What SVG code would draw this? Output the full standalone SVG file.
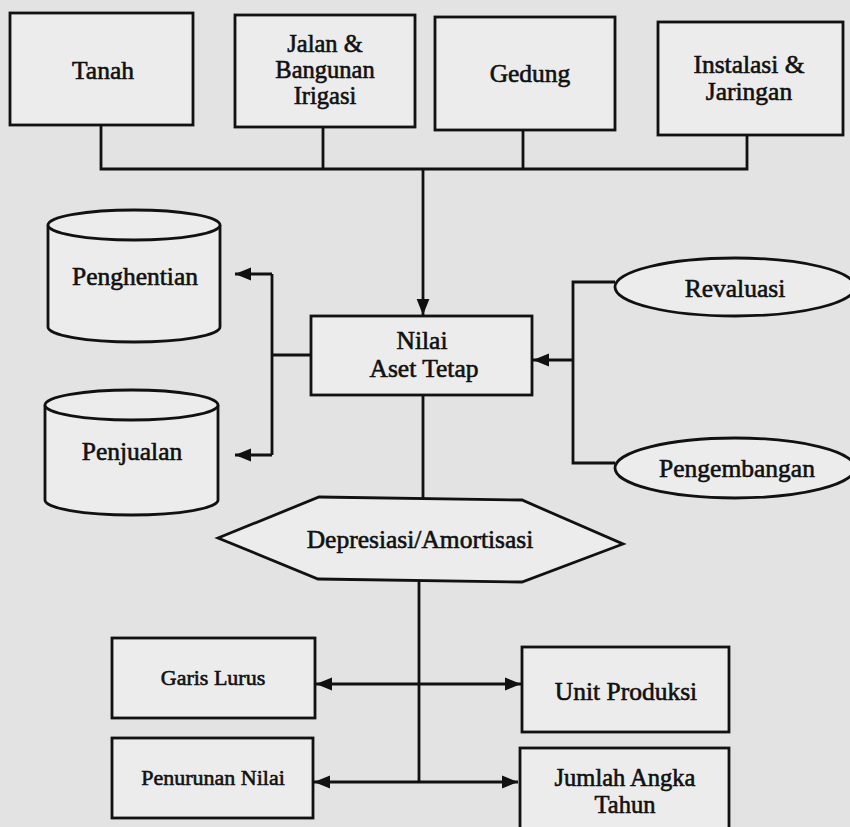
<svg xmlns="http://www.w3.org/2000/svg" width="850" height="827" viewBox="0 0 850 827">
<defs>
<marker id="ah" viewBox="0 0 10 10" refX="10" refY="5" markerWidth="16" markerHeight="16" markerUnits="userSpaceOnUse" orient="auto">
<path d="M0,1 L10,5 L0,9 Z" fill="#111"/>
</marker>
</defs>
<style>
.bg{fill:#e3e3e3}
.n{fill:#ececec;stroke:#111;stroke-width:2.8}
.c{fill:none;stroke:#111;stroke-width:2.8}
.a{fill:none;stroke:#111;stroke-width:2.8;marker-end:url(#ah)}
text{font-family:"Liberation Serif","Times New Roman",serif;fill:#111;stroke:#111;stroke-width:0.6;text-anchor:middle;font-size:25.5px}
.s{font-size:22px}
.m{font-size:24.5px}
</style>
<rect class="bg" width="850" height="827"/>
<g id="connectors">
<path class="c" d="M101,125 V169 H747 V135 M323,127 V169 M523,130 V169"/>
<path class="a" d="M423,169 V315"/>
<path class="c" d="M311,355 H272 M272,274 V455"/>
<path class="a" d="M272,274 H235"/>
<path class="a" d="M272,455 H235"/>
<path class="c" d="M615,282 H573 V463 H615"/>
<path class="a" d="M573,360 H533"/>
<path class="c" d="M423,395 V498 M419,580 V782"/>
<path class="a" d="M419,684 H316"/>
<path class="a" d="M419,684 H521"/>
<path class="a" d="M419,782 H314"/>
<path class="a" d="M419,782 H518"/>
</g>
<g id="tanah"><rect class="n" x="10" y="13" width="183" height="112"/><text x="103" y="79">Tanah</text></g>
<g id="jalan"><rect class="n" x="235" y="15" width="180" height="112"/><text class="m" x="325" y="52">Jalan &amp;</text><text class="m" x="325" y="78">Bangunan</text><text class="m" x="325" y="104">Irigasi</text></g>
<g id="gedung"><rect class="n" x="435" y="17" width="180" height="113"/><text x="530" y="82">Gedung</text></g>
<g id="instalasi"><rect class="n" x="658" y="22" width="185" height="113"/><text x="749" y="73">Instalasi &amp;</text><text x="749" y="100">Jaringan</text></g>
<g id="nilai"><rect class="n" x="311" y="316" width="221" height="79"/><text x="422" y="349">Nilai</text><text x="424" y="377">Aset Tetap</text></g>
<g id="penghentian"><path class="n" d="M48,225 V327 A86,15 0 0 0 220,327 V225"/><ellipse class="n" cx="134" cy="225" rx="86" ry="15"/><text x="135" y="285">Penghentian</text></g>
<g id="penjualan"><path class="n" d="M45,405 V500 A86.5,15 0 0 0 218,500 V405"/><ellipse class="n" cx="131.5" cy="405" rx="86.5" ry="15"/><text x="132" y="460">Penjualan</text></g>
<g id="revaluasi"><ellipse class="n" cx="735" cy="287" rx="120" ry="29"/><text x="735" y="297">Revaluasi</text></g>
<g id="pengembangan"><ellipse class="n" cx="735" cy="468" rx="120" ry="30"/><text x="737" y="477">Pengembangan</text></g>
<g id="depresiasi"><polygon class="n" points="218,538 319,497 522,500 623,544 522,582 318,579"/><text x="420" y="548">Depresiasi/Amortisasi</text></g>
<g id="garis"><rect class="n" x="112" y="638" width="203" height="80"/><text class="s" x="213" y="685">Garis Lurus</text></g>
<g id="penurunan"><rect class="n" x="112" y="738" width="201" height="80"/><text class="s" x="213" y="785">Penurunan Nilai</text></g>
<g id="unit"><rect class="n" x="522" y="647" width="207" height="85"/><text x="626" y="700">Unit Produksi</text></g>
<g id="jumlah"><rect class="n" x="520" y="748" width="209" height="90"/><text class="m" x="625" y="786">Jumlah Angka</text><text class="m" x="625" y="813">Tahun</text></g>
</svg>
